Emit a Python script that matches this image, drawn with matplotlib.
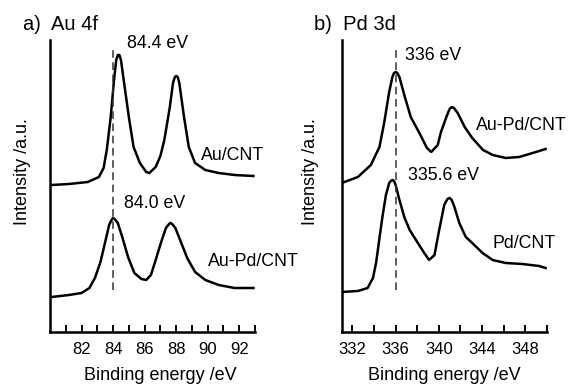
import numpy as np
import matplotlib.pyplot as plt

plt.rcParams['font.family'] = ['Liberation Sans', 'DejaVu Sans']

# Au 4f spectra (binding energy eV, intensity a.u.)
au_cnt_e = [80.1, 81.2, 82.4, 83.1, 83.4, 83.6, 83.85, 84.06, 84.2, 84.3, 84.4, 84.5, 84.7,
            85.0, 85.3, 85.7, 86.1, 86.3, 86.7, 87.0, 87.25, 87.6, 87.8, 87.92, 88.0, 88.1,
            88.2, 88.5, 88.8, 89.2, 89.85, 90.7, 91.7, 92.9]
au_cnt_i = [147, 148, 150, 155, 164, 182, 215, 252, 272, 277, 277, 272, 249,
            215, 185, 169, 160, 159, 165, 176, 192, 225, 249, 255, 256, 255,
            249, 215, 185, 169, 162, 159, 157, 156]

aupd_au_e = [80.1, 81.2, 82.0, 82.5, 82.85, 83.2, 83.5, 83.75, 83.9, 84.0, 84.1, 84.3, 84.6,
             84.95, 85.35, 85.8, 86.1, 86.4, 86.7, 87.05, 87.35, 87.55, 87.65, 87.75,
             87.95, 88.3, 88.7, 89.2, 89.85, 90.7, 91.7, 92.9]
aupd_au_i = [35, 37, 39, 44, 54, 70, 90, 107, 112, 114, 113, 109, 94,
             75, 59, 53, 52, 57, 72, 90, 104, 108, 109, 108,
             104, 90, 74, 60, 52, 47, 44, 44]

# Pd 3d spectra
aupd_pd_e = [331.0, 332.5, 333.7, 334.5, 334.95, 335.4, 335.7, 335.85, 336.0, 336.15,
             336.35, 336.8, 337.4, 338.2, 338.9, 339.3, 339.9, 340.2, 340.7, 341.0,
             341.2, 341.4, 341.75, 342.4, 343.1, 344.1, 345.0, 346.2, 347.45, 348.7, 349.9]
aupd_pd_i = [149, 155, 167, 185, 210, 240, 255, 259, 260, 259,
             255, 237, 215, 199, 184, 180, 187, 200, 215, 223,
             225, 224, 219, 205, 194, 182, 177, 174, 175, 179, 183]

pd_cnt_e = [331.0, 332.5, 333.4, 333.9, 334.2, 334.5, 334.8, 335.1, 335.4, 335.55, 335.7,
            335.85, 336.0, 336.3, 336.8, 337.3, 338.0, 338.65, 339.1, 339.6, 340.0, 340.5,
            340.8, 341.0, 341.2, 341.45, 341.9, 342.5, 343.1, 344.05, 345.0, 346.2,
            347.75, 349.3, 349.9]
pd_cnt_i = [40, 41, 44, 54, 70, 94, 117, 137, 149, 151, 152,
            151, 147, 134, 115, 102, 90, 79, 72, 77, 100, 127,
            133, 134, 132, 125, 109, 95, 89, 79, 72, 69,
            68, 66, 64]

fig = plt.figure(figsize=(5.73, 3.85), dpi=100)
ax1 = fig.add_axes([50/573, 53/385, 205/573, 292/385])
ax2 = fig.add_axes([341.7/573, 53/385, 205/573, 292/385])

ax1.plot(au_cnt_e, au_cnt_i, color='black', lw=1.8)
ax1.plot(aupd_au_e, aupd_au_i, color='black', lw=1.8)
ax1.plot([84.0, 84.0], [42, 282], color='#333333', lw=1.1, ls=(0, (5, 3)))
ax1.set_xlim(80, 93)
ax1.set_xticks([82, 84, 86, 88, 90, 92])
ax1.set_xticks(np.arange(81, 94, 2), minor=True)
ax1.text(84.9, 289, '84.4 eV', fontsize=12.8, va='center')
ax1.text(84.7, 129, '84.0 eV', fontsize=12.8, va='center')
ax1.text(89.6, 176, 'Au/CNT', fontsize=12.8, va='center')
ax1.text(90.0, 70, 'Au-Pd/CNT', fontsize=12.8, va='center')

ax2.plot(aupd_pd_e, aupd_pd_i, color='black', lw=1.8)
ax2.plot(pd_cnt_e, pd_cnt_i, color='black', lw=1.8)
ax2.plot([336.0, 336.0], [42, 282], color='#333333', lw=1.1, ls=(0, (5, 3)))
ax2.set_xlim(331, 350)
ax2.set_xticks([332, 336, 340, 344, 348])
ax2.set_xticks(np.arange(334, 351, 4), minor=True)
ax2.text(336.83, 276, '336 eV', fontsize=12.8, va='center')
ax2.text(337.1, 157, '335.6 eV', fontsize=12.8, va='center')
ax2.text(343.4, 207, 'Au-Pd/CNT', fontsize=12.8, va='center')
ax2.text(344.95, 89, 'Pd/CNT', fontsize=12.8, va='center')

for ax in (ax1, ax2):
    ax.set_ylim(0, 292)
    ax.spines['top'].set_visible(False)
    ax.spines['right'].set_visible(False)
    ax.spines['left'].set_linewidth(1.8)
    ax.spines['bottom'].set_linewidth(1.8)
    ax.set_yticks([])
    ax.tick_params(axis='x', which='both', direction='in', length=5, width=1.4,
                   labelsize=12, pad=7)
    ax.set_xlabel('Binding energy /eV', fontsize=13)
    ax.set_ylabel('Intensity /a.u.', fontsize=13)

ax1.xaxis.set_label_coords(0.54, -0.12)
ax2.xaxis.set_label_coords(0.5, -0.12)
ax1.yaxis.set_label_coords(-0.095, 0.55)
ax2.yaxis.set_label_coords(-0.11, 0.55)

fig.text(23/573, 1 - 25/385, 'a)  Au 4f', fontsize=14.5, va='center')
fig.text(314/573, 1 - 25/385, 'b)  Pd 3d', fontsize=14.5, va='center')

fig.savefig('out.png', dpi=100)
